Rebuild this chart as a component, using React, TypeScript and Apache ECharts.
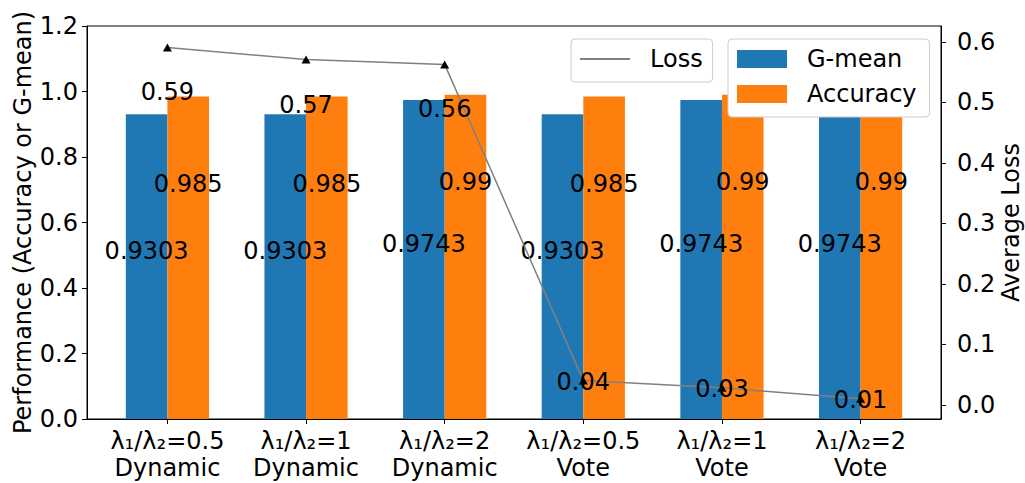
import React, { useEffect, useRef } from 'react';
import * as echarts from 'echarts';

const categories = [
  'λ₁/λ₂=0.5\nDynamic',
  'λ₁/λ₂=1\nDynamic',
  'λ₁/λ₂=2\nDynamic',
  'λ₁/λ₂=0.5\nVote',
  'λ₁/λ₂=1\nVote',
  'λ₁/λ₂=2\nVote',
];
const gmean = [0.9303, 0.9303, 0.9743, 0.9303, 0.9743, 0.9743];
const accuracy = [0.985, 0.985, 0.99, 0.985, 0.99, 0.99];
const loss = [0.591, 0.571, 0.563, 0.04, 0.028, 0.01];
const lossText = ['0.59', '0.57', '0.56', '0.04', '0.03', '0.01'];
const rightTicks = [0, 0.1, 0.2, 0.3, 0.4, 0.5, 0.6];

const FONT = 'DejaVu Sans';
const FS = 24;

export default function App() {
  const ref = useRef<HTMLDivElement>(null);
  useEffect(() => {
    if (!ref.current) return;
    const chart = echarts.init(ref.current, undefined, { renderer: 'svg' });
    const xIdx = categories.map((_, i) => i);
    const legendBase = {
      icon: 'rect',
      itemWidth: 50,
      backgroundColor: '#fff',
      borderColor: '#cccccc', borderWidth: 1, borderRadius: 4,
      textStyle: { fontSize: FS, color: '#000', fontFamily: FONT, padding: [0, 0, 0, 15] },
    };
    const option: any = {
      animation: false,
      textStyle: { fontFamily: FONT, color: '#000' },
      grid: {
        left: 87, right: 84, top: 26, bottom: 64,
        outerBoundsMode: 'none',
        containLabel: false,
        show: true, borderColor: '#000', borderWidth: 1, backgroundColor: 'transparent',
      },
      legend: [
        {
          ...legendBase,
          data: [{ name: 'Loss', itemStyle: { color: '#808080' } }],
          left: 571, top: 39,
          itemHeight: 2,
          padding: [8, 10, 11, 9],
        },
        {
          ...legendBase,
          data: ['G-mean', 'Accuracy'],
          orient: 'vertical',
          left: 728, top: 39,
          itemHeight: 18, itemGap: 11,
          padding: [8, 13, 11, 9],
        },
      ],
      xAxis: {
        type: 'value',
        min: -0.58, max: 5.58,
        splitLine: { show: false },
        axisLine: { show: true, onZero: false, lineStyle: { color: '#000', width: 1 } },
        axisTick: { show: true, customValues: xIdx, length: 5, lineStyle: { color: '#000' } },
        axisLabel: {
          customValues: xIdx,
          formatter: (v: number) => categories[Math.round(v)] ?? '',
          fontSize: FS, lineHeight: 27, color: '#000', margin: 8, fontFamily: FONT,
        },
      },
      yAxis: [
        {
          type: 'value', min: 0, max: 1.2, interval: 0.2,
          name: 'Performance (Accuracy or G-mean)',
          nameLocation: 'middle', nameRotate: 90, nameGap: 52,
          nameMoveOverlap: false,
          nameTextStyle: { fontSize: FS, color: '#000', fontFamily: FONT },
          splitLine: { show: false },
          axisLine: { show: true, onZero: false, lineStyle: { color: '#000' } },
          axisTick: { show: true, length: 5, lineStyle: { color: '#000' } },
          axisLabel: { fontSize: FS, color: '#000', margin: 9, formatter: (v: number) => v.toFixed(1), fontFamily: FONT },
        },
        {
          type: 'value', min: -0.0235, max: 0.6265,
          position: 'right',
          name: 'Average Loss',
          nameLocation: 'middle', nameRotate: 90, nameGap: 58,
          nameMoveOverlap: false,
          nameTextStyle: { fontSize: FS, color: '#000', fontFamily: FONT },
          splitLine: { show: false },
          axisLine: { show: true, onZero: false, lineStyle: { color: '#000' } },
          axisTick: { show: true, customValues: rightTicks, length: 5, lineStyle: { color: '#000' } },
          axisLabel: {
            customValues: rightTicks, fontSize: FS, color: '#000', margin: 16,
            formatter: (v: number) => v.toFixed(1), fontFamily: FONT,
          },
        },
      ],
      series: [
        {
          name: 'G-mean', type: 'bar', yAxisIndex: 0,
          data: gmean.map((v, i) => [i, v]),
          barWidth: 41.6, barGap: '0%',
          itemStyle: { color: '#1f77b4' },
          label: {
            show: true, position: ['50%', '45%'], align: 'center', verticalAlign: 'middle',
            fontSize: FS, color: '#000', fontFamily: FONT,
            formatter: (p: any) => String(p.value[1]),
          },
        },
        {
          name: 'Accuracy', type: 'bar', yAxisIndex: 0,
          data: accuracy.map((v, i) => [i, v]),
          barWidth: 41.6, barGap: '0%',
          itemStyle: { color: '#ff7f0e' },
          label: {
            show: true, position: ['50%', '27%'], align: 'center', verticalAlign: 'middle',
            fontSize: FS, color: '#000', fontFamily: FONT,
            formatter: (p: any) => String(p.value[1]),
          },
        },
        {
          name: 'Loss', type: 'line', yAxisIndex: 1,
          data: loss.map((v, i) => ({
            value: [i, v],
            label: { offset: [0, i < 3 ? 45 : 1] },
          })),
          symbol: 'triangle', symbolSize: [9, 8],
          itemStyle: { color: '#000' },
          lineStyle: { color: '#808080', width: 1.5 },
          z: 5,
          label: {
            show: true, position: 'inside',
            fontSize: FS, color: '#000', fontFamily: FONT,
            formatter: (p: any) => lossText[p.dataIndex],
          },
        },
      ],
    };
    chart.setOption(option);
    return () => chart.dispose();
  }, []);
  return <div ref={ref} style={{ position: 'absolute', left: 0, top: 0, width: 1025, height: 483 }} />;
}
